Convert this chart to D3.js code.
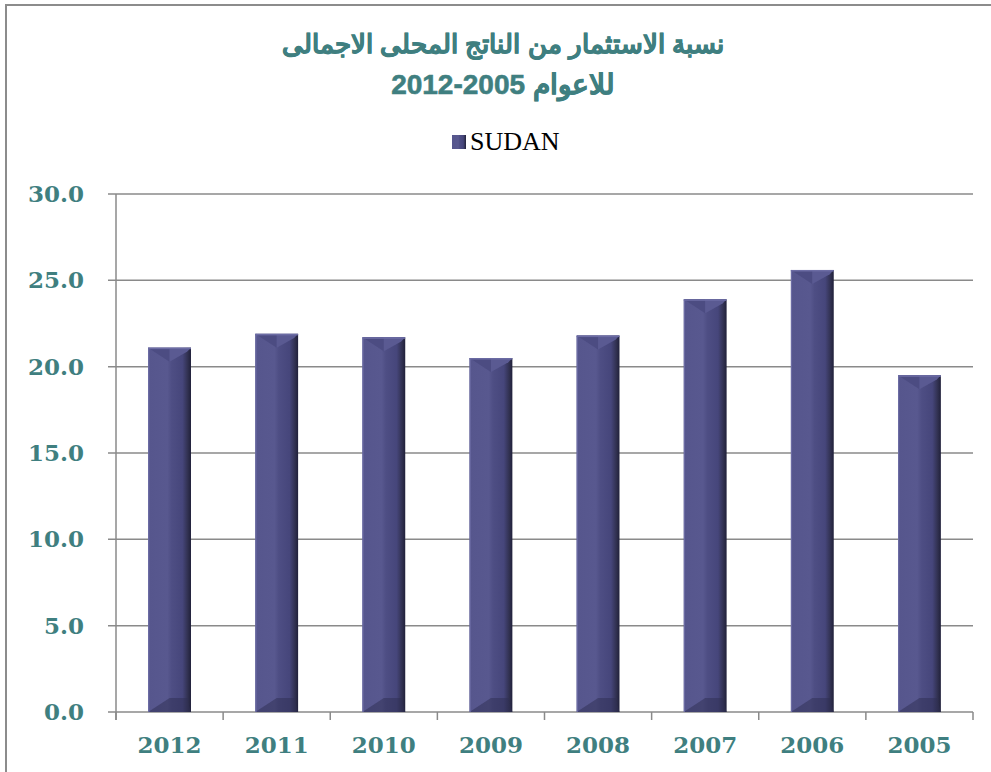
<!DOCTYPE html>
<html>
<head>
<meta charset="utf-8">
<script src="https://cdn.jsdelivr.net/npm/d3@7"></script>
<style>
  body { margin: 0; background: #fff; }
  svg { display: block; }
</style>
</head>
<body>
<svg id="chart"></svg>
<script>
// Investment as % of GDP, Sudan 2005-2012
const years = ["2012", "2011", "2010", "2009", "2008", "2007", "2006", "2005"];
const sudan = [21.1, 21.9, 21.7, 20.5, 21.8, 23.9, 25.6, 19.5];
const yTicks = [0, 5, 10, 15, 20, 25, 30];
const titleLines = ["نسبة الاستثمار من الناتج المحلى الاجمالى", "للاعوام 2005-2012"];
const seriesName = "SUDAN";

const W = 991, H = 772;
const margin = {top: 194, right: 18, bottom: 60, left: 116};
const width = W - margin.left - margin.right;
const height = H - margin.top - margin.bottom;

const teal = "#3f7f80";
const gridCol = "#8a8a8a";

const svg = d3.select('#chart').attr('width', W).attr('height', H);

// gradient for the bevelled bars
const defs = svg.append('defs');
const grad = defs.append('linearGradient').attr('id', 'barGrad')
    .attr('x1', '0%').attr('x2', '100%').attr('y1', '0%').attr('y2', '0%');
[[0, '#56568d'], [0.45, '#58588f'], [0.55, '#4e4e84'], [0.8, '#46467b'], [0.93, '#30304f'], [1, '#20203a']]
    .forEach(s => grad.append('stop').attr('offset', s[0]).attr('stop-color', s[1]));

// outer frame (left + top)
svg.append('path')
    .attr('d', `M6,${H} L6,5 L${W},5`)
    .attr('fill', 'none')
    .attr('stroke', '#8c8c8c')
    .attr('stroke-width', 2);

// title
const title = svg.append('text')
    .attr('text-anchor', 'middle')
    .attr('direction', 'rtl')
    .attr('fill', teal)
    .attr('stroke', teal)
    .attr('stroke-width', 0.6)
    .style('font-family', '"Liberation Sans", Arial, sans-serif')
    .style('font-weight', 'bold');
titleLines.forEach((t, i) => {
    title.append('tspan')
        .attr('x', 503)
        .attr('y', 53 + i * 41)
        .style('font-size', i === 0 ? '26px' : '28px')
        .text(t);
});

// legend
const legend = svg.append('g').attr('transform', 'translate(452,135)');
legend.append('rect').attr('width', 14).attr('height', 14).attr('fill', 'url(#barGrad)');
legend.append('text')
    .attr('x', 18).attr('y', 15)
    .style('font-family', '"Liberation Serif", "DejaVu Serif", serif')
    .style('font-size', '26px')
    .attr('fill', '#000')
    .text(seriesName);

const g = svg.append('g').attr('transform', `translate(${margin.left},${margin.top})`);

const x = d3.scaleBand().domain(years).range([0, width]).paddingInner(0.6).paddingOuter(0.3);
const xb = d3.scaleBand().domain(years).range([0, width]);
const y = d3.scaleLinear().domain([0, 30]).range([height, 0]);

// horizontal grid lines
g.append('g')
    .selectAll('line')
    .data(yTicks)
    .enter().append('line')
    .attr('x1', -8).attr('x2', width)
    .attr('y1', d => y(d)).attr('y2', d => y(d))
    .attr('stroke', gridCol)
    .attr('stroke-width', 1.5);

// y axis line
g.append('line')
    .attr('x1', 0).attr('x2', 0)
    .attr('y1', 0).attr('y2', height + 8)
    .attr('stroke', gridCol)
    .attr('stroke-width', 1.5);

// y tick labels
g.append('g')
    .selectAll('text')
    .data(yTicks)
    .enter().append('text')
    .attr('x', -32)
    .attr('y', d => y(d) + 8)
    .attr('text-anchor', 'end')
    .attr('fill', teal)
    .style('font-family', '"DejaVu Serif", Georgia, serif')
    .style('font-weight', 'bold')
    .style('font-size', '23px')
    .text(d => d.toFixed(1));

// bars
const bars = g.selectAll('g.bar')
    .data(years.map((yr, i) => ({year: yr, value: sudan[i]})))
    .enter().append('g')
    .attr('class', 'bar');

bars.append('rect')
    .attr('x', d => x(d.year))
    .attr('y', d => y(d.value))
    .attr('width', x.bandwidth())
    .attr('height', d => height - y(d.value))
    .attr('fill', 'url(#barGrad)');

// top bevel: lighter left facet, darker right facet
const bev = 14;
bars.append('path')
    .attr('d', d => {
        const x0 = x(d.year), x1 = x0 + x.bandwidth(), xm = (x0 + x1) / 2, t = y(d.value);
        return `M${x0},${t} L${xm},${t} L${xm},${t + bev} Z`;
    })
    .attr('fill', '#4c4c82');
bars.append('path')
    .attr('d', d => {
        const x0 = x(d.year), x1 = x0 + x.bandwidth(), xm = (x0 + x1) / 2, t = y(d.value);
        return `M${xm},${t} L${x1},${t} L${x1 - 4},${t + bev * 0.3} L${xm},${t + bev} Z`;
    })
    .attr('fill', '#5a5a92');
bars.append('rect')
    .attr('x', d => x(d.year))
    .attr('y', d => y(d.value))
    .attr('width', x.bandwidth())
    .attr('height', 1.5)
    .attr('fill', '#6c6ca4');
// bottom bevel
bars.append('path')
    .attr('d', d => {
        const x0 = x(d.year), x1 = x0 + x.bandwidth(), xm = (x0 + x1) / 2, b = height;
        return `M${x0},${b} L${xm},${b - bev} L${x1 - 4},${b - bev} L${x1},${b} Z`;
    })
    .attr('fill', '#2e2e52').attr('opacity', 0.5);
bars.append('rect')
    .attr('x', d => x(d.year))
    .attr('y', d => y(d.value))
    .attr('width', 1.2)
    .attr('height', d => height - y(d.value))
    .attr('fill', '#6c6ca4');

// x axis baseline ticks between categories
g.append('g')
    .selectAll('line')
    .data(years.concat(['end']))
    .enter().append('line')
    .attr('x1', (d, i) => i * xb.bandwidth())
    .attr('x2', (d, i) => i * xb.bandwidth())
    .attr('y1', height).attr('y2', height + 8)
    .attr('stroke', gridCol)
    .attr('stroke-width', 1.5);

// x labels
g.append('g')
    .selectAll('text')
    .data(years)
    .enter().append('text')
    .attr('x', d => xb(d) + xb.bandwidth() / 2)
    .attr('y', height + 41)
    .attr('text-anchor', 'middle')
    .attr('fill', teal)
    .style('font-family', '"DejaVu Serif", Georgia, serif')
    .style('font-weight', 'bold')
    .style('font-size', '23px')
    .text(d => d);
</script>
</body>
</html>
